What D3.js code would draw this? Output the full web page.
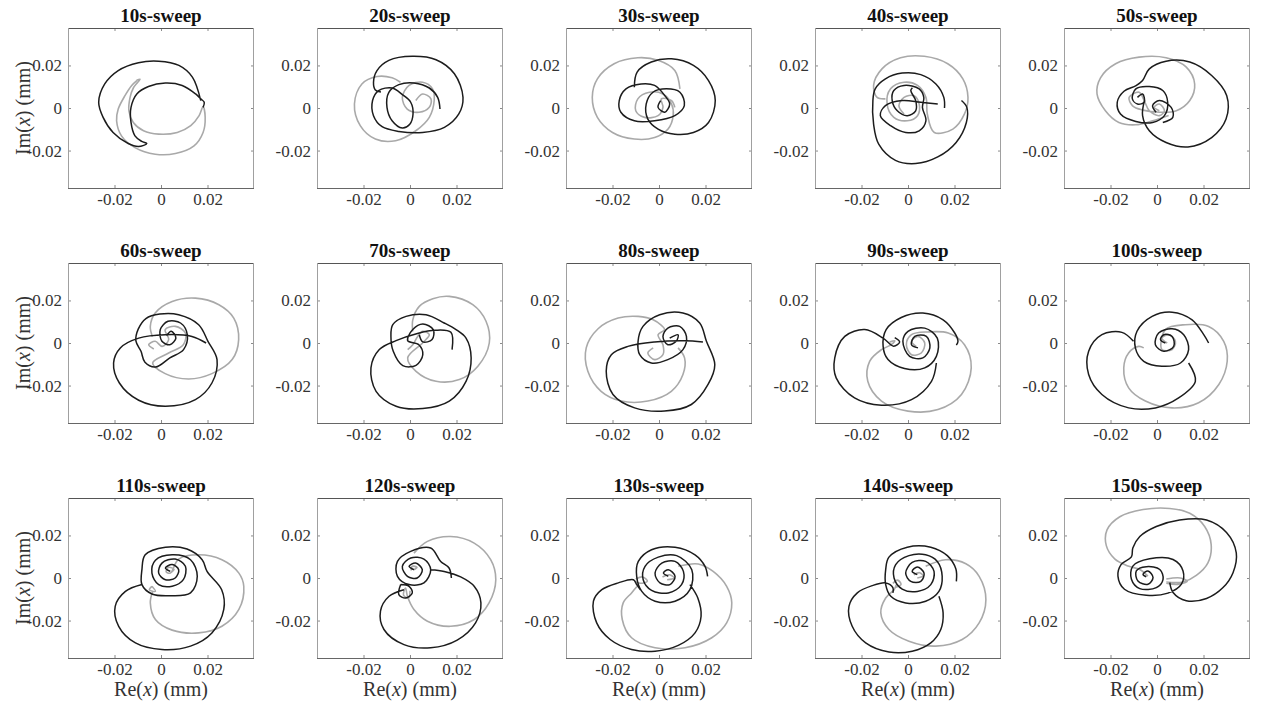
<!DOCTYPE html>
<html>
<head>
  <title>Sweep trajectories</title>
  <style>
    body { margin: 0; background: #fff; }
    .tick text { font-family: "Liberation Serif", "Times New Roman", serif; font-size: 17px; fill: #333; }
    .tick line { stroke: #8a8a8a; }
    .title { font-family: "Liberation Serif", "Times New Roman", serif; font-size: 19px; font-weight: bold; fill: #111; }
    .axis-label { font-family: "Liberation Serif", "Times New Roman", serif; font-size: 20px; fill: #333; }
  </style>
</head>
<body>
  <svg id="chart" width="1261" height="705"></svg>

  <script src="https://d3js.org/d3.v7.min.js"></script>
  <script>
    // data, in units of 1e-3 mm  [Re, Im]; null = gap
    const titles = ['10s-sweep', '20s-sweep', '30s-sweep', '40s-sweep', '50s-sweep',
                    '60s-sweep', '70s-sweep', '80s-sweep', '90s-sweep', '100s-sweep',
                    '110s-sweep', '120s-sweep', '130s-sweep', '140s-sweep', '150s-sweep'];
    const xTicks = [-0.02, 0, 0.02];
    const yTicks = [-0.02, 0, 0.02];
    const tickLabels = ['-0.02', '0', '0.02'];

    const s10Black = [[17.1,3.5],[13.5,14.5],[7.7,20],[-1.0,22],[-9.7,21.3],[-18.4,17.6],[-24.2,11.3],[-26.8,2.7],[-24.9,-4.4],[-20.6,-11.5],[-14.1,-16.7],[-9.7,-18.1],[-6.1,-16.7],[-8.3,-15.7],[-11.2,-13.1],[-12.9,-6.8],[-12.9,0.3],[-10.4,6.6],[-5.4,10.1],[1.9,11.7],[9.1,10.6],[14.9,6.6],[17.1,4.3],[18.6,2.7],[18.1,0.3]];
    const s10Gray = [[-10.4,12.9],[-12.6,10.6],[-15.5,5.8],[-18.4,-0.5],[-19.1,-6.0],[-17.0,-13.1],[-11.2,-18.6],[-2.5,-21.7],[6.2,-21.4],[14.2,-17.8],[18.1,-11.5],[19.0,-4.4],[18.1,0.6],[16.4,-3.6],[12.8,-8.3],[7.0,-11.5],[-1.0,-12.3],[-7.5,-10.7],[-11.9,-6.8],[-13.8,-1.3],[-13.3,5.0],[-11.9,9.4],[-10.0,12.1],[-9.0,13.5],[-10.5,13.0]];

    const s20Black = [[12.9,-0.5],[11.9,5.0],[8.3,9.4],[1.7,11.8],[-4.8,11.0],[-9.1,7.4],[-9.9,0.3],[-7.7,-6.0],[-3.3,-9.4],[-0.1,-7.6],[1.3,-2.8],[0.3,2.7],[-3.3,6.3],[-7.7,9.4],[-13.5,8.2],[-16.1,3.5],[-15.7,-3.6],[-12.0,-8.8],[-4.8,-11.0],[5.4,-11.5],[14.8,-9.1],[21.0,-2.8],[22.8,5.0],[19.1,16.1],[11.2,22.7],[1.0,24.3],[-9.1,22.4],[-14.2,17.6],[-15.7,12.1],[-14.9,8.5],[-12.5,7.5]];
    const s20Gray = [[2.5,3.5],[5.4,6.6],[9.0,4.3],[8.3,0.3],[3.9,-2.0],[-1.2,-0.5],[-3.3,5.0],[-0.4,10.6],[5.4,12.1],[9.7,9.0],[10.4,3.5],[8.3,-4.4],[2.5,-10.7],[-6.2,-15.4],[-14.9,-14.6],[-21.4,-8.3],[-23.9,1.9],[-20.7,11.3],[-14.2,14.8],[-7.7,14.2],[-4.1,12.1]];

    const s30Black = [[-10.6,9.8],[-9.4,16.9],[-3.3,21.6],[5.4,23.1],[14.8,20.0],[21.3,12.9],[24.2,3.5],[21.3,-6.8],[14.8,-11.5],[6.8,-12.3],[-0.4,-9.9],[-4.8,-5.2],[-5.5,1.9],[-2.6,7.4],[3.2,9.0],[9.0,7.4],[10.9,1.1],[6.8,-3.6],[-1.9,-6.0],[-10.6,-6.0],[-16.4,-2.0],[-17.1,3.5],[-14.2,9.0],[-7.7,11.3],[-1.9,10.6],[2.5,5.8],[4.6,1.9],[2.5,-2.0],[-0.4,0.3],[0.7,3.5]];
    const s30Gray = [[9.0,9.0],[6.8,17.6],[-0.4,22.4],[-9.1,23.6],[-19.3,20.8],[-26.5,13.7],[-28.7,5.0],[-26.5,-4.4],[-20.0,-11.5],[-10.6,-14.6],[-1.9,-13.9],[3.9,-9.9],[6.1,-3.6],[5.4,1.9],[1.7,6.6],[-4.1,7.4],[-9.1,4.3],[-10.0,-1.3],[-6.2,-4.4],[-0.4,-3.6],[1.7,0.3],[1.0,4.3],[5.4,3.5],[6.8,0.3]];

    const s40Black = [[15.7,0],[15.4,5.0],[12.0,11.3],[5.5,15.7],[-2.5,16.4],[-9.7,13.7],[-14.1,9.0],[-15.1,3.5],[-14.8,-7.6],[-12.6,-17.0],[-5.4,-24.6],[3.3,-26.1],[12.8,-23.0],[20.7,-16.2],[25.1,-6.8],[25.3,0.3],[23.0,3.5],null,[12.8,1.9],[5.5,2.7],[-2.5,3.5],[-9.7,1.1],[-11.9,-3.6],[-7.5,-8.3],[-1.0,-11.5],[4.8,-10.7],[7.7,-6.0],[6.2,0.3],[6.8,5.0],[4.8,9.0],[-1.7,10.6],[-6.1,8.2],[-6.8,3.5],[-4.6,-1.3],[-0.3,-3.6],[3.3,-1.3],[3.3,3.5],[1.2,8.2],[1.9,9.5]];
    const s40Gray = [[-1.7,-2.8],[-3.9,1.1],[-1.7,5.0],[2.6,5.8],[4.8,1.9],[4.1,-3.6],[-0.3,-6.0],[-6.1,-4.4],[-9.0,1.9],[-7.5,9.0],[-1.7,12.1],[4.1,10.6],[7.7,5.0],[8.3,-2.8],[11.3,-11.5],[19.3,-9.9],[24.3,-2.8],[25.8,5.0],[23.6,13.7],[17.1,20.8],[7.0,24.3],[-3.2,23.6],[-11.2,18.4],[-14.8,10.6],[-13.3,5.0],[-9.7,4.3]];

    const s50Black = [[-0.4,-2.0],[-1.9,1.1],[1.0,3.5],[6.1,0.3],[6.8,-4.4],[2.5,-6.8],null,[-8.4,5.0],[-6.2,6.6],[-5.5,2.7],[-8.4,1.9],[-10.6,4.3],[-9.1,9.0],[-3.3,10.1],[2.5,8.2],[4.6,2.7],[3.2,-3.6],[-1.9,-6.8],[-9.1,-6.3],[-15.7,-2.8],[-17.1,2.7],[-14.2,7.9],[-9.0,10.5],[-6.2,12.9],[-3.3,18.4],[3.9,22.0],[14.1,21.6],[23.5,15.3],[30.0,5.8],[29.7,-5.2],[23.5,-13.9],[13.3,-18.3],[3.9,-16.2],[-3.3,-10.7],[-6.2,-3.6],[-5.5,3.0]];
    const s50Gray = [[1.0,-1.3],[-1.2,0.3],[1.0,1.9],[3.2,-1.3],[1.0,-3.6],[-3.3,-1.3],[-5.5,3.5],[-7.7,7.4],[-12.0,5.0],[-10.5,1.0],[-6.0,-1.0],[1.0,-2.0],[8.3,-1.3],[14.1,3.5],[16.2,11.3],[12.6,19.2],[3.9,23.6],[-7.7,23.9],[-17.8,20.8],[-24.3,14.2],[-25.8,6.6],[-22.2,-1.3],[-16.4,-6.8],[-9.1,-7.9],[-1.9,-6.0],[5.0,-3.5]];

    const s60Black = [[2.4,3.4],[4.4,5.5],[6.4,2.3],[3.8,-0.8],[0.4,0.8],[-0.3,6.3],[3.0,10.2],[8.4,9.4],[11.3,3.9],[9.7,-3.1],[3.8,-7.0],[-2.3,-11.3],[-6.9,-9.1],[-8.6,-3.9],[-10.8,1.0],[-9.8,6.5],[-6.5,11.5],[-0.5,13.6],[7.6,13.3],[16.2,8.6],[20.2,0.8],[24.1,-7.8],[21.9,-18.8],[14.8,-26.6],[1.8,-29.7],[-9.6,-26.9],[-17.9,-18.8],[-20.4,-9.4],[-17.5,-2.3],[-9.6,2.3],[1.8,3.9],[13.3,3.1],[19.4,0]];
    const s60Gray = [[-3.1,-2.8],[-5.3,-0.8],[-2.5,0.8],[0.5,-1.6],[3.3,1.6],[1.8,6.3],[6.2,7.8],[10.5,4.7],[9.6,-0.8],[3.3,-4.7],[-3.6,-9.4],[1.8,-14.4],[11.9,-16.9],[21.9,-14.4],[30.6,-7.8],[33.4,1.6],[31.3,11.7],[24.9,18.0],[14.8,21.1],[4.8,19.5],[-2.5,14.1],[-4.6,7.8],[-3.7,3.0]];

    const s70Black = [[4.0,3.9],[5.5,0.5],[9.5,1.6],[10.0,6.3],[5.5,8.9],[1.2,6.3],[-1.0,1.1],[3.8,-0.8],[5.5,-5.5],[2.6,-10.5],[-3.1,-10.6],[-7.2,-3.9],[-8.2,3.1],[-7.4,8.6],[-1.7,12.5],[6.9,13.3],[14.7,9.4],[19.8,6.3],[24.1,2.3],[26.3,-7.0],[24.1,-18.0],[16.9,-27.3],[5.5,-30.8],[-6.0,-29.7],[-14.6,-22.7],[-16.8,-11.7],[-13.2,-3.1],[-6.0,1.1],[3.2,4.5],[10.8,6.0],[17.6,5.0],[18.1,-3.1]];
    const s70Gray = [[-1.0,-3.1],[1.2,-0.8],[3.3,3.1],[5.5,5.5],[8.3,3.9],[5.4,0],[-1.0,-7.0],[2.6,-13.3],[11.2,-18.0],[21.2,-17.2],[29.2,-10.9],[34.1,0],[32.7,10.2],[27.0,18.0],[16.9,21.9],[9.8,20.8],[4.0,17.2],[1.2,10.9],[1.2,5.5]];

    const s80Black = [[4.6,2.3],[8.2,3.9],[7.4,0.8],[3.8,-0.8],[1.7,3.1],[3.8,7.0],[8.9,7.8],[11.8,3.1],[10.3,-3.1],[3.8,-7.8],[-3.3,-9.4],[-8.3,-5.5],[-9.0,0.8],[-6.9,7.8],[0.3,13.3],[10.3,14.1],[17.5,9.4],[20.4,0.8],[24.0,-10.2],[21.1,-19.5],[13.9,-28.9],[2.4,-32.0],[-10.5,-30.5],[-19.8,-24.2],[-22.7,-13.3],[-20.5,-5.5],[-13.4,-1.6],[-1.9,0.5],[11.0,1.1],[18.9,0.5]];
    const s80Gray = [[-2.5,-2.3],[-4.8,-4.7],[-1.9,-7.8],[1.7,-5.5],[1.7,-0.8],[-0.4,3.9],[2.4,6.3],[-2.5,10.9],[-9.0,12.5],[-17.6,11.7],[-26.2,6.7],[-31.3,-2.3],[-30.6,-13.3],[-24.9,-22.7],[-16.2,-27.3],[-4.8,-27.3],[5.3,-22.7],[10.3,-14.8],[11.0,-7.0],[8.2,-2.3]];

    const s90Black = [[12.2,-9.4],[10.1,-18.0],[1.5,-26.6],[-11.4,-29.2],[-23.0,-25.8],[-30.9,-16.4],[-31.5,-7.0],[-27.2,3.1],[-18.6,6.3],[-10.7,2.3],[-6.2,-1.5],[-3.6,0.5],[-5.7,2.5],null,[4.3,-2.3],[1.5,-0.8],[2.9,3.1],[7.9,3.1],[9.4,-2.3],[6.4,-7.0],[0.7,-6.3],[-2.2,0.8],[0,5.5],[7.2,7.0],[12.6,2.3],[12.2,-6.3],[7.2,-11.7],[-1.5,-12.0],[-8.6,-7.8],[-10.7,-1.6],[-9.4,6.3],[-2.9,12.0],[6.4,14.1],[15.1,10.9],[20.1,4.7],[21.5,0.8],[20.8,-1.0]];
    const s90Gray = [[3.5,-1.6],[1.5,0.8],[4.3,3.1],[7.2,0],[5.7,-4.7],[1.5,-5.5],[-0.7,-0.8],[1.5,3.9],[8.6,5.2],[17.3,4.7],[24.3,-0.8],[27.2,-11.7],[23.0,-24.2],[12.9,-31.3],[0,-32.0],[-11.4,-27.3],[-17.3,-18.0],[-16.5,-8.6],[-11.4,-3.1],[-7.2,-0.8],[-5.7,1.1],[-7.9,0.5]];

    const s100Black = [[13.6,-9.4],[16.5,-18.0],[9.3,-25.8],[-0.7,-30.5],[-12.2,-30.5],[-23.7,-24.2],[-29.4,-14.8],[-29.4,-3.9],[-23.7,3.9],[-15.1,5.0],[-10.1,0.8],null,[3.6,0],[1.5,1.6],[2.9,3.9],[6.5,3.1],[7.2,-1.6],[2.9,-3.9],[-0.7,-0.8],[0.7,4.7],[6.5,6.7],[11.5,3.9],[13.6,-3.1],[10.1,-9.4],[2.1,-10.9],[-5.7,-8.6],[-9.3,-2.3],[-8.6,5.5],[-2.1,12.5],[6.5,14.5],[15.1,10.9],[20.1,3.9],[22.2,0]];
    const s100Gray = [[4.4,0],[2.1,2.3],[5.0,3.9],[7.9,0.8],[6.5,-3.1],[2.1,-3.1],[3.6,6.3],[12.2,8.6],[22.2,7.8],[28.7,0.8],[30.2,-8.6],[26.6,-19.5],[17.9,-28.1],[6.5,-30.5],[-5.0,-27.3],[-12.2,-21.1],[-14.3,-11.7],[-12.2,-4.7],[-7.9,-1.6],[-5.7,-2.3]];

    const s110Black = [[4.0,3.1],[1.9,4.7],[4.8,6.3],[7.6,3.9],[6.1,0],[1.9,-0.8],[-1.0,2.3],[0.4,7.0],[6.1,8.9],[10.5,5.5],[9.6,-0.8],[4.8,-3.9],[-1.0,-3.1],[-3.9,2.3],[-2.4,8.3],[4.8,10.9],[12.7,8.6],[15.6,0.8],[12.7,-7.0],[4.0,-8.3],[-3.9,-7.5],[-8.2,-3.1],[-8.2,3.9],[-6.8,10.9],[1.9,14.5],[11.2,13.6],[17.7,8.6],[19.8,3.1],[26.1,-5.5],[27.0,-14.8],[21.9,-25.8],[12.7,-32.0],[0.4,-33.6],[-11.0,-30.5],[-18.2,-22.7],[-19.7,-13.3],[-15.3,-6.3],[-8.2,-3.1]];
    const s110Gray = [[-3.9,-3.9],[-2.4,-6.3],[-5.0,-5.5],[-3.9,-3.9],null,[4.0,2.3],[5.6,4.0],[3.3,5.0],[2.2,3.0],[4.0,2.3],[7.6,8.9],[16.2,10.9],[26.2,8.6],[33.5,2.3],[35.6,-3.9],[33.5,-14.8],[26.2,-22.7],[16.2,-25.8],[4.8,-24.5],[-2.4,-19.5],[-4.6,-11.7],[-3.6,-6.3]];

    const s120Black = [[1.7,3.9],[-0.4,5.5],[2.4,7.0],[5.3,3.9],[3.1,0],[-1.1,0.8],[-3.3,5.5],[0.3,9.4],[6.0,8.9],[8.9,3.9],[6.0,-2.3],[-0.4,-3.1],[-5.4,0.8],[-5.4,7.8],[0.3,12.5],[8.9,14.1],[13.2,7.8],[16.8,4.7],[17.8,0],null,[-2.6,-5.5],[-9.0,-8.6],[-12.7,-15.6],[-11.2,-24.2],[-2.6,-31.3],[8.9,-32.8],[20.3,-29.2],[28.2,-21.1],[30.5,-11.7],[27.6,-3.9],[21.8,0.5],[14.7,3.1],[8.9,3.9],null,[-4.0,-3.1],[-4.8,-7.8],[-1.9,-9.4],[1.0,-7.0],[-0.4,-3.9],[-4.0,-3.1]];
    const s120Gray = [[1.7,11.7],[7.5,17.2],[17.5,19.5],[27.6,16.4],[34.7,8.6],[36.9,-0.8],[34.0,-11.7],[27.6,-19.5],[17.5,-22.7],[7.5,-20.3],[1.7,-14.8],[-1.1,-8.6],[-1.9,-4.7],[-2.8,-8.0],[-0.6,-9.5],[0,-6.0],null,[1.7,3.9],[3.0,5.0],[1.0,5.5],[0.5,3.5]];

    const s130Black = [[4.0,0.8],[1.9,2.3],[4.0,3.9],[6.9,0.8],[4.7,-3.1],[0.4,-2.3],[-1.7,2.3],[1.2,7.0],[6.9,7.8],[10.5,3.1],[9.7,-3.1],[4.0,-7.0],[-3.2,-5.8],[-6.8,-0.8],[-6.0,5.5],[-0.3,9.8],[7.6,10.5],[14.1,3.9],[13.3,-5.5],[6.9,-10.9],[-1.7,-10.9],[-7.4,-6.3],[-9.6,0.8],[-8.9,7.8],[-3.2,13.3],[6.9,14.5],[15.5,10.9],[19.8,5.5],[20.9,0.8],null,[13.3,-3.1],[16.7,-9.4],[18.1,-18.0],[15.5,-25.8],[8.3,-31.7],[-1.7,-34.4],[-11.8,-33.6],[-21.0,-28.9],[-26.8,-21.1],[-28.2,-10.9],[-24.6,-5.5],[-17.5,-2.3],[-11.0,-0.8],[-9.6,-3.1],[-8.0,-5.5]];
    const s130Gray = [[8.3,5.5],[16.9,6.6],[23.3,3.1],[29.1,-3.9],[31.3,-11.7],[29.1,-21.1],[22.7,-28.1],[11.2,-32.8],[-1.7,-32.8],[-11.8,-28.1],[-15.8,-19.5],[-15.4,-11.7],[-11.8,-7.0],[-9.5,-4.0],null,[-10.0,-0.5],[-7.0,0.5],[-5.0,-1.5],[-8.0,-2.5],[-10.5,-1.5],null,[1.5,0.5],[4.5,1.5],[6.5,0],[3.5,-0.8]];

    const s140Black = [[4.0,1.6],[1.8,3.1],[4.0,5.2],[6.9,2.3],[5.5,-1.6],[1.2,-1.6],[-1.0,2.3],[1.8,7.3],[7.6,7.8],[11.2,3.1],[9.8,-3.1],[4.0,-6.3],[-2.5,-5.2],[-6.0,0],[-5.3,6.3],[0.4,10.5],[7.6,10.9],[12.6,7.8],[14.7,0.8],[13.3,-6.3],[7.6,-10.9],[-1.0,-11.7],[-7.4,-8.6],[-9.6,-3.1],[-9.6,3.9],[-8.2,9.8],[-0.3,14.5],[9.8,14.5],[16.9,10.5],[20.6,4.2],[20.8,-1.6],null,[13.3,-8.6],[15.1,-16.4],[14.1,-24.2],[9.8,-30.5],[1.8,-34.4],[-8.2,-34.8],[-18.2,-30.5],[-24.0,-22.7],[-25.4,-13.3],[-21.8,-7.0],[-15.4,-3.6],[-9.6,-2.3],[-6.5,-4.5],[-6.5,-7.0]];
    const s140Gray = [[7.6,5.5],[16.2,8.6],[24.9,6.7],[30.6,0.8],[33.5,-10.2],[30.6,-21.1],[23.3,-28.9],[11.9,-32.0],[0.4,-29.7],[-8.2,-24.2],[-11.7,-16.4],[-9.6,-9.4],[-6.0,-5.5],[-5.0,-3.0],null,[-6.5,-2.5],[-4.5,-1.0],[-3.0,-3.0],[-5.5,-4.5],null,[2.5,1.5],[5.0,2.5],[6.5,1.0],[4.0,0]];

    const s150Black = [[-4.6,0.6],[-6.0,1.7],[-3.9,3.3],[-1.7,0.2],[-3.9,-2.9],[-8.2,-1.4],[-8.9,3.3],[-4.6,5.3],[1.2,4.0],[2.6,-0.6],[-0.3,-4.5],[-7.4,-5.0],[-11.0,-0.6],[-10.4,5.6],[-3.2,9.0],[6.9,8.7],[11.2,3.3],[10.5,-2.9],[4.7,-7.1],[-4.6,-8.1],[-14.0,-5.3],[-16.8,0.9],[-15.4,6.4],[-11.0,9.9],[-10.4,14.1],[-7.4,19.5],[-0.3,24.2],[9.7,27.3],[21.3,27.3],[29.9,21.4],[34.1,11.8],[32.7,2.5],[28.4,-4.5],[21.3,-9.6],[12.6,-10.7],[6.9,-6.8],[5.5,-2.2]];
    const s150Gray = [[-3.9,0.9],[-7.4,4.0],[-12.4,5.6],[-18.2,9.0],[-21.8,15.2],[-21.5,22.6],[-16.0,28.8],[-6.0,32.2],[5.5,32.7],[14.1,30.4],[20.5,24.2],[23.3,15.7],[21.9,7.1],[16.9,1.2],[11.2,-1.9],[4.0,-1.9],null,[4.0,-0.5],[10.0,0],[13.0,-1.5],[9.0,-3.0],[4.0,-2.5]];

    const blackCurves = [s10Black, s20Black, s30Black, s40Black, s50Black, s60Black, s70Black, s80Black,
                         s90Black, s100Black, s110Black, s120Black, s130Black, s140Black, s150Black];
    const grayCurves = [s10Gray, s20Gray, s30Gray, s40Gray, s50Gray, s60Gray, s70Gray, s80Gray,
                        s90Gray, s100Gray, s110Gray, s120Gray, s130Gray, s140Gray, s150Gray];

    // layout
    const colLeft = [68, 317, 566, 815, 1064];
    const rowTop = [28, 263, 498];
    const boxW = 186, boxH = 160;
    const unit = 1e-3;
    const serif = '"Liberation Serif", "Times New Roman", serif';

    const svg = d3.select("#chart");
    svg.append("rect").attr("width", 1261).attr("height", 705).attr("fill", "#fff");

    const xScale = d3.scaleLinear().domain([-0.04, 0.04]).range([0, boxW]);
    const yScale = d3.scaleLinear().domain([-0.0376, 0.0376]).range([boxH, 0]);

    const line = d3.line()
      .defined(d => d !== null)
      .x(d => xScale(d[0] * unit))
      .y(d => yScale(d[1] * unit))
      .curve(d3.curveCatmullRom.alpha(0.5));

    titles.forEach((title, i) => {
      const col = i % 5, row = Math.floor(i / 5);
      const g = svg.append("g").attr("transform", `translate(${colLeft[col]},${rowTop[row]})`);

      g.append("clipPath").attr("id", "clip" + i)
        .append("rect").attr("width", boxW).attr("height", boxH);

      // axes with inward ticks on all four sides
      g.append("g").attr("transform", `translate(0,${boxH})`)
        .call(d3.axisBottom(xScale).tickValues(xTicks).tickFormat((d, k) => tickLabels[k]).tickSize(-3).tickPadding(5))
        .call(a => a.select(".domain").remove());
      g.append("g")
        .call(d3.axisTop(xScale).tickValues(xTicks).tickFormat("").tickSize(-3))
        .call(a => a.select(".domain").remove());
      g.append("g")
        .call(d3.axisLeft(yScale).tickValues(yTicks).tickFormat((d, k) => tickLabels[k]).tickSize(-3).tickPadding(6))
        .call(a => a.select(".domain").remove());
      g.append("g").attr("transform", `translate(${boxW},0)`)
        .call(d3.axisRight(yScale).tickValues(yTicks).tickFormat("").tickSize(-3))
        .call(a => a.select(".domain").remove());
      g.selectAll("g").attr("font-family", serif).attr("font-size", 17);

      // curves
      const plot = g.append("g").attr("clip-path", `url(#clip${i})`);
      plot.append("path").datum(grayCurves[i]).attr("d", line)
        .attr("fill", "none").attr("stroke", "#a9a9a9").attr("stroke-width", 1.6)
        .attr("stroke-linejoin", "round");
      plot.append("path").datum(blackCurves[i]).attr("d", line)
        .attr("fill", "none").attr("stroke", "#1c1c1c").attr("stroke-width", 1.5)
        .attr("stroke-linejoin", "round");

      // frame
      g.append("line").attr("x1", 0).attr("x2", boxW).attr("y1", 0.5).attr("y2", 0.5).attr("stroke", "#555");
      g.append("line").attr("x1", 0).attr("x2", boxW).attr("y1", boxH + 0.5).attr("y2", boxH + 0.5).attr("stroke", "#666");
      g.append("line").attr("x1", 0.5).attr("x2", 0.5).attr("y1", 0).attr("y2", boxH).attr("stroke", "#a0a0a0");
      g.append("line").attr("x1", boxW - 0.5).attr("x2", boxW - 0.5).attr("y1", 0).attr("y2", boxH).attr("stroke", "#a0a0a0");

      g.append("text").attr("class", "title")
        .attr("x", boxW / 2).attr("y", -6).attr("text-anchor", "middle").text(title);

      if (col === 0) {
        const t = g.append("text").attr("class", "axis-label")
          .attr("text-anchor", "middle")
          .attr("transform", `translate(-38,${boxH / 2}) rotate(-90)`);
        t.append("tspan").text("Im(");
        t.append("tspan").attr("font-style", "italic").text("x");
        t.append("tspan").text(") (mm)");
      }
      if (row === 2) {
        const t = g.append("text").attr("class", "axis-label")
          .attr("text-anchor", "middle")
          .attr("x", boxW / 2).attr("y", boxH + 38);
        t.append("tspan").text("Re(");
        t.append("tspan").attr("font-style", "italic").text("x");
        t.append("tspan").text(") (mm)");
      }
    });
  </script>
</body>
</html>
